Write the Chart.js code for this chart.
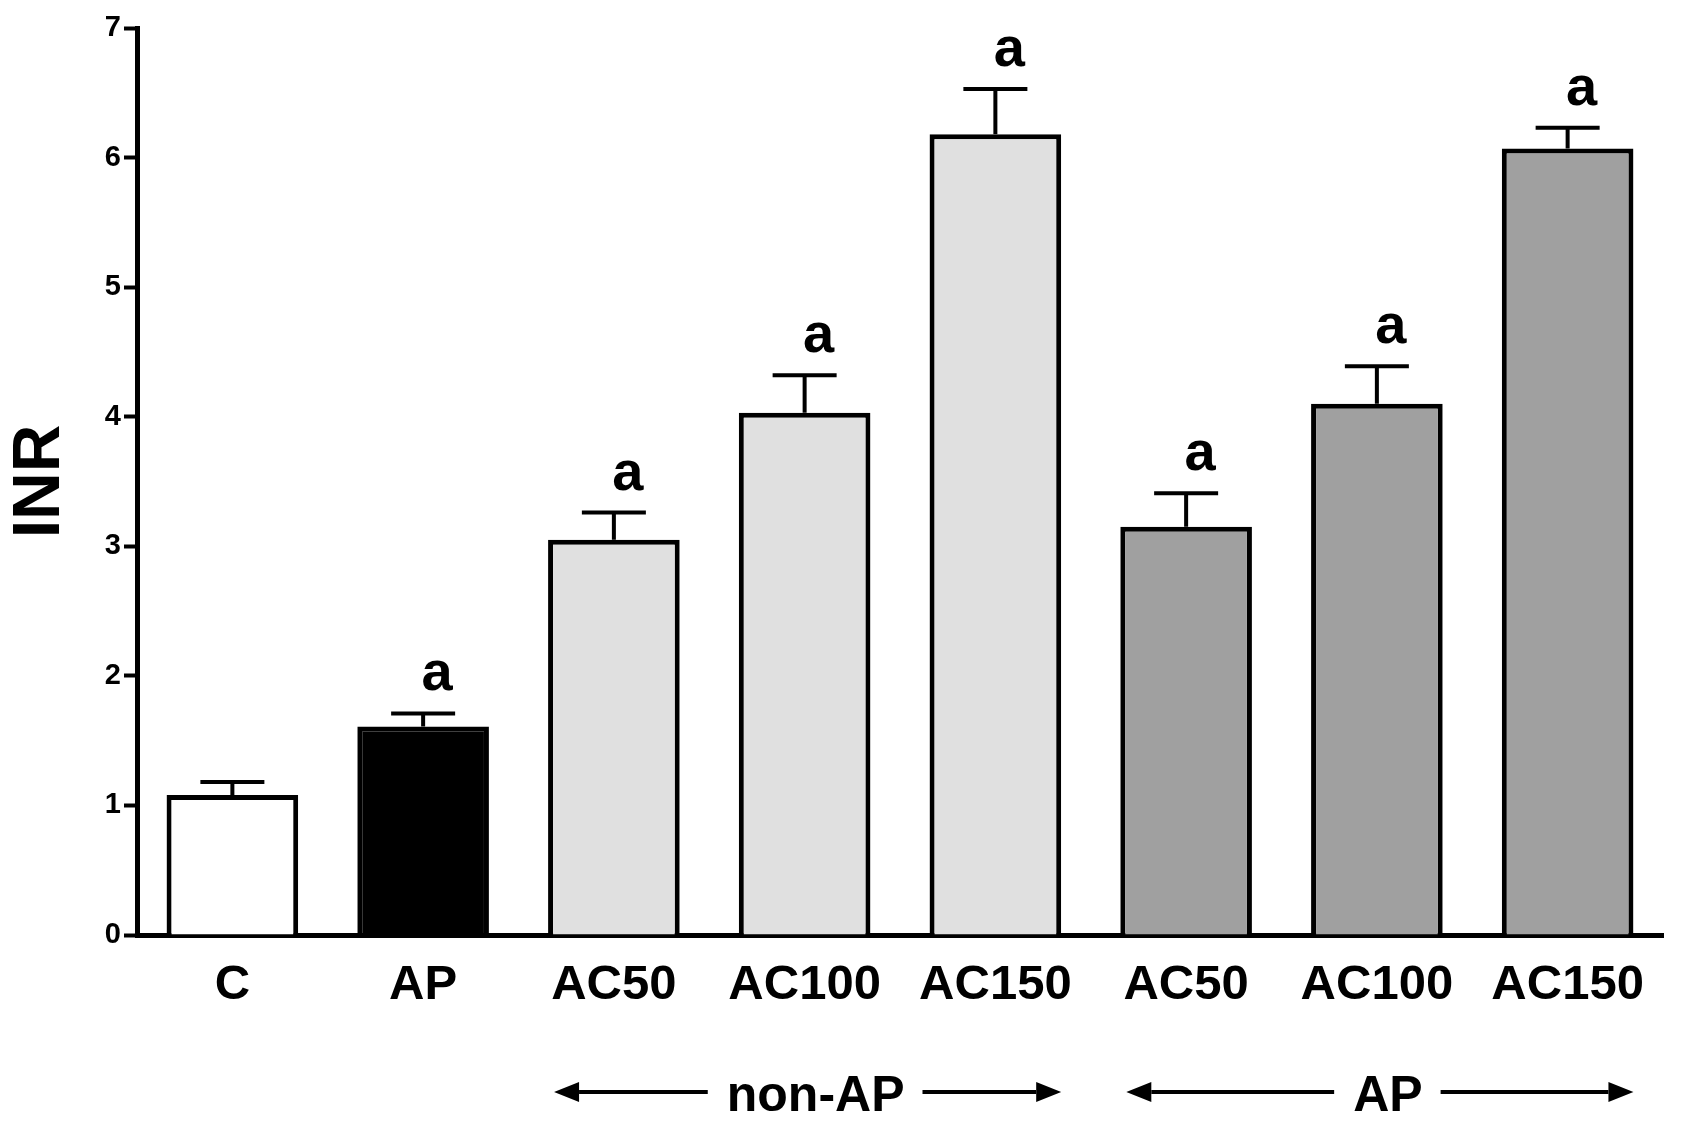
<!DOCTYPE html>
<html>
<head>
    <meta charset="utf-8" />
    <title>INR bar chart</title>
    <script src="https://cdn.jsdelivr.net/npm/chart.js@4.4.1/dist/chart.umd.min.js"></script>
    <style>
        body, html {
            background: white;
            margin: 0;
            padding: 0;
            overflow: hidden;
        }
        #chartContainer {
            width: 1684px;
            height: 1125px;
            background: white;
        }
    </style>
</head>
<body>
    <div id="chartContainer">
        <canvas id="myChart" width="1684" height="1125"></canvas>
    </div>

    <script>
        // values
        const categories = ['C', 'AP', 'AC50', 'AC100', 'AC150', 'AC50', 'AC100', 'AC150'];
        const means = [1.08, 1.61, 3.05, 4.03, 6.18, 3.15, 4.10, 6.07];
        const sem = [0.10, 0.10, 0.21, 0.29, 0.35, 0.26, 0.29, 0.16];
        const sigLetters = ['', 'a', 'a', 'a', 'a', 'a', 'a', 'a'];
        const barColors = ['#ffffff', '#000000', '#e0e0e0', '#e0e0e0', '#e0e0e0', '#a0a0a0', '#a0a0a0', '#a0a0a0'];
        const groupLabels = ['non-AP', 'AP'];
        const groupFrom = [2, 5];
        const groupTo = [4, 7];

        const FONT = '"Liberation Sans", Arial, Helvetica, sans-serif';

        function arrow(ctx, x1, x2, y) {
            // line from x1 to x2, head at x2
            const dir = x2 > x1 ? 1 : -1;
            const head = 25;
            ctx.beginPath();
            ctx.moveTo(x1, y);
            ctx.lineTo(x2 - dir * head, y);
            ctx.stroke();
            ctx.beginPath();
            ctx.moveTo(x2, y);
            ctx.lineTo(x2 - dir * head, y - 10);
            ctx.lineTo(x2 - dir * head, y + 10);
            ctx.closePath();
            ctx.fill();
        }

        // error bars, significance letters and the group arrows under the axis
        const annotate = {
            id: 'annotate',
            afterDatasetsDraw(chart) {
                const ctx = chart.ctx;
                const y = chart.scales.y;
                const meta = chart.getDatasetMeta(0);
                ctx.save();
                ctx.strokeStyle = '#000';
                ctx.fillStyle = '#000';
                ctx.lineWidth = 4;
                ctx.font = 'bold 56px ' + FONT;
                ctx.textAlign = 'center';
                ctx.textBaseline = 'alphabetic';
                meta.data.forEach((bar, i) => {
                    const top = y.getPixelForValue(means[i]);
                    const hi = y.getPixelForValue(means[i] + sem[i]);
                    ctx.beginPath();
                    ctx.moveTo(bar.x, top);
                    ctx.lineTo(bar.x, hi);
                    ctx.moveTo(bar.x - 32, hi);
                    ctx.lineTo(bar.x + 32, hi);
                    ctx.stroke();
                    if (sigLetters[i]) {
                        ctx.fillText(sigLetters[i], bar.x + 14, hi - 23);
                    }
                });

                ctx.font = 'bold 50px ' + FONT;
                ctx.lineWidth = 4;
                const yy = chart.scales.x.top + 157;
                groupLabels.forEach((label, g) => {
                    const a = meta.data[groupFrom[g]];
                    const b = meta.data[groupTo[g]];
                    const left = a.x - a.width / 2 + 6;
                    const right = b.x + b.width / 2;
                    const mid = (left + right) / 2 + 8;
                    const w = ctx.measureText(label).width;
                    ctx.fillText(label, mid, yy + 19);
                    arrow(ctx, mid - w / 2 - 19, left, yy);
                    arrow(ctx, mid + w / 2 + 18, right, yy);
                });
                ctx.restore();
            }
        };

        const config = {
            type: 'bar',
            data: {
                labels: categories,
                datasets: [{
                    data: means,
                    backgroundColor: barColors,
                    borderColor: '#000',
                    borderWidth: 5,
                    borderSkipped: 'start',
                    categoryPercentage: 1.0,
                    barPercentage: 0.69
                }]
            },
            options: {
                responsive: false,
                animation: false,
                layout: { padding: { top: 28, right: 21, left: 0, bottom: 0 } },
                scales: {
                    x: {
                        z: 1,
                        grid: { display: false, drawTicks: false },
                        border: { display: true, color: '#000', width: 5 },
                        ticks: {
                            color: '#000',
                            padding: 21,
                            font: { family: FONT, size: 49, weight: 'bold' }
                        },
                        afterFit(scale) { scale.height = 190; }
                    },
                    y: {
                        min: 0,
                        max: 7,
                        grid: {
                            display: true,
                            drawOnChartArea: false,
                            drawTicks: true,
                            tickLength: 13,
                            tickWidth: 4,
                            tickColor: '#000'
                        },
                        border: { display: true, color: '#000', width: 5 },
                        ticks: {
                            stepSize: 1,
                            color: '#000',
                            padding: 3,
                            font: { family: FONT, size: 29, weight: 'bold' }
                        },
                        title: {
                            display: true,
                            text: 'INR',
                            color: '#000',
                            padding: { top: 4, bottom: 0 },
                            font: { family: FONT, size: 66, weight: 'bold', lineHeight: 1.1 }
                        },
                        afterFit(scale) { scale.width = 137; }
                    }
                },
                plugins: {
                    legend: { display: false },
                    tooltip: { enabled: false }
                }
            },
            plugins: [annotate]
        };

        const ctx = document.getElementById('myChart').getContext('2d');
        new Chart(ctx, config);
    </script>
</body>
</html>
